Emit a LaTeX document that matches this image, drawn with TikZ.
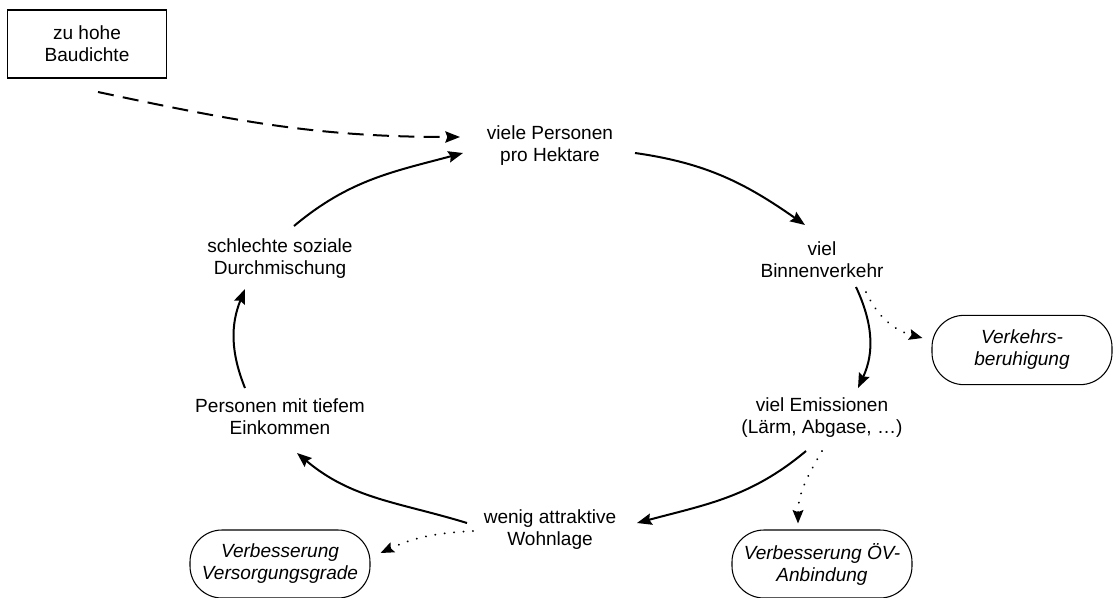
\documentclass[tikz,border=0pt]{standalone}
\usepackage{fontspec}
\setmainfont{Liberation Sans}
\usetikzlibrary{arrows.meta,positioning}
\definecolor{ink}{HTML}{000000}

\begin{document}
\begin{tikzpicture}[
  x=0.75pt, y=0.75pt,
  font=\fontsize{14.3}{16.5}\selectfont,
  txt/.style={align=center, inner sep=2pt, text=ink},
  causebox/.style={draw=ink, line width=1.1pt, align=center,
    minimum width=119pt, minimum height=51pt},
  measure/.style={draw=ink, line width=0.8pt, rounded corners=24pt,
    align=center, font=\fontsize{14.3}{16.5}\selectfont\itshape,
    minimum width=135pt, minimum height=51pt},
  arrow/.style={-{Stealth[length=11pt, width=8.5pt, inset=1.5pt]},
    line width=1.5pt, draw=ink},
  push/.style={arrow, dash pattern=on 12pt off 7pt},
  hint/.style={-{Stealth[length=10pt, width=8pt, inset=1.5pt]},
    line width=1.5pt, draw=ink, dash pattern=on 0.1pt off 7pt, line cap=round}
]
\useasboundingbox (0,0) rectangle (1114,-597);

\node[causebox] (density) at (87,-44) {zu hohe\\Baudichte};

\node[txt] (dense) at (550,-146) {viele Personen\\pro Hektare};
\node[txt] (traffic) at (822,-260) {viel\\Binnenverkehr};
\node[txt] (emission) at (822,-418) {viel Emissionen\\(Lärm, Abgase, …)};
\node[txt] (unattractive) at (550,-530) {wenig attraktive\\Wohnlage};
\node[txt] (lowincome) at (280,-417) {Personen mit tiefem\\Einkommen};
\node[txt] (mixing) at (280,-259) {schlechte soziale\\Durchmischung};

\node[measure, minimum width=135pt, minimum height=52pt] (calming) at (1022,-350)
  {Verkehrs-\\beruhigung};
\node[measure] (transit) at (822,-564) {Verbesserung ÖV-\\Anbindung};
\node[measure] (supply) at (280,-564) {Verbesserung\\Versorgungsgrade};

% vicious circle
\draw[push] ([shift={(11,-48)}]density.center) to[out=-12, in=180]
  ([shift={(-90,9)}]dense.center);
\draw[arrow] ([shift={(14,33)}]mixing.center) to[out=40, in=195]
  ([shift={(-87,-7)}]dense.center);
\draw[arrow] ([shift={(85,-7)}]dense.center) to[out=-8, in=145]
  ([shift={(-17,35)}]traffic.center);
\draw[arrow] ([shift={(34,-27)}]traffic.center) to[out=-65, in=65]
  ([shift={(36,30)}]emission.center);
\draw[arrow] ([shift={(-16,-33)}]emission.center) to[out=220, in=15]
  ([shift={(87,7)}]unattractive.center);
\draw[arrow] ([shift={(-83,7)}]unattractive.center) to[out=163, in=-40]
  ([shift={(17,-36)}]lowincome.center);
\draw[arrow] ([shift={(-35,29)}]lowincome.center) to[out=112, in=-112]
  ([shift={(-35,-30)}]mixing.center);

% measures
\draw[hint] ([shift={(44,-32)}]traffic.center) to[out=-65, in=165]
  ([shift={(-9,12)}]calming.west);
\draw[hint] ([shift={(0,-33)}]emission.center) to[out=-120, in=90]
  ([shift={(-24,6)}]transit.north);
\draw[hint] ([shift={(-77,-1)}]unattractive.center) to[out=183, in=25]
  ([shift={(10,11)}]supply.east);

\end{tikzpicture}
\end{document}
